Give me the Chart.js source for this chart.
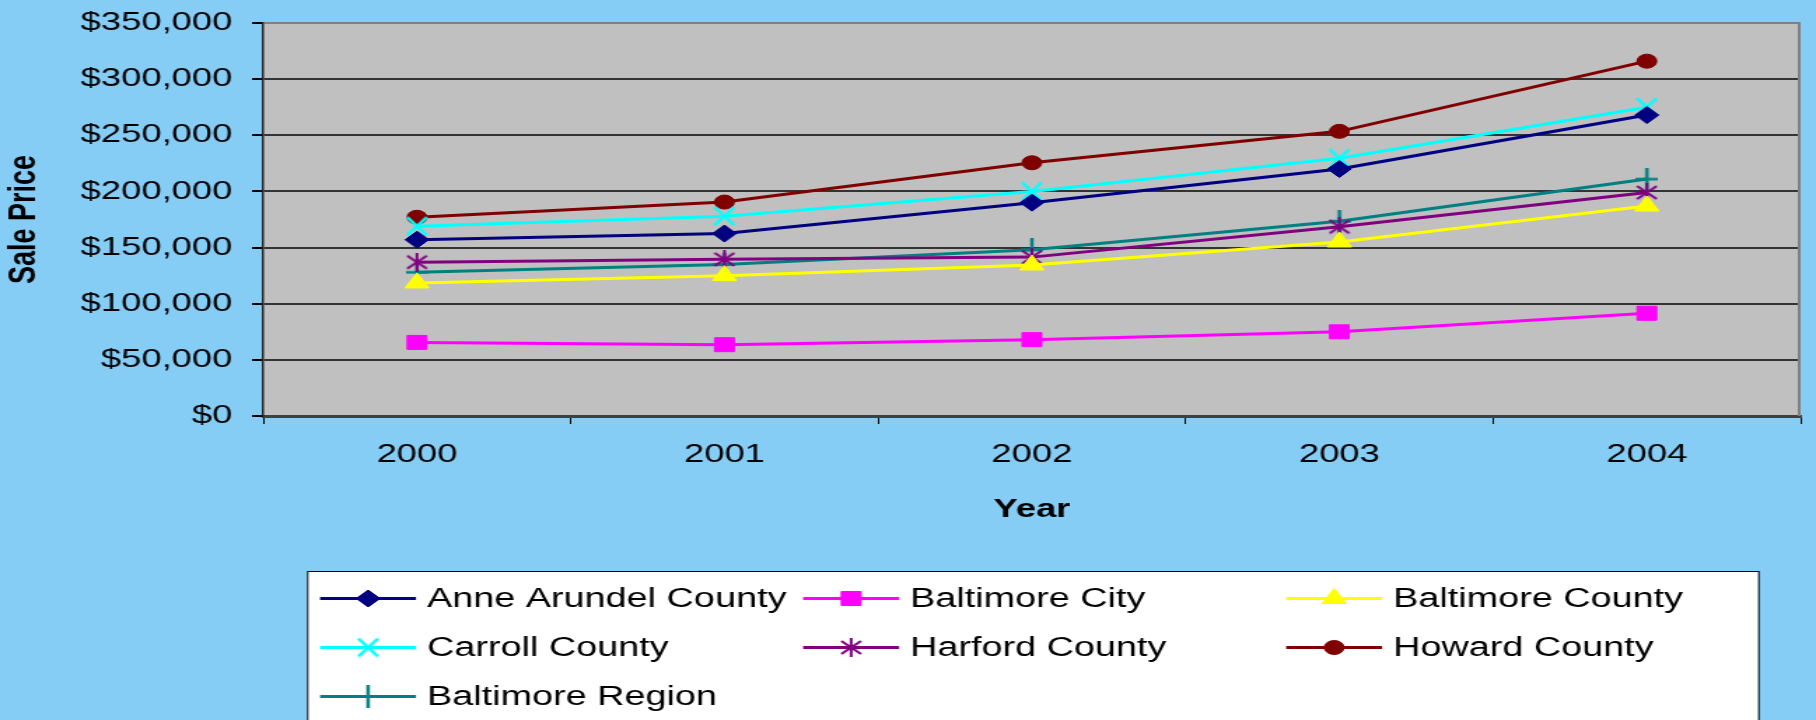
<!DOCTYPE html>
<html>
<head>
<meta charset="utf-8">
<title>Sale Price by Year</title>
<script src="https://cdn.jsdelivr.net/npm/chart.js@4.4.1/dist/chart.umd.min.js"></script>
<style>
  html, body { margin: 0; padding: 0; background: #86cdf6; overflow: hidden; }
  /* the reference is stretched sideways, so the chart is drawn narrow and widened */
  #wrap { width: 1297px; height: 720px; transform: scaleX(1.40015); transform-origin: 0 0; }
</style>
</head>
<body>
<div id="wrap"><canvas id="chart"></canvas></div>
<script>
  // ── Data ──────────────────────────────────────────────────────
  const years = ["2000", "2001", "2002", "2003", "2004"];

  const seriesNames = [
    "Anne Arundel County", "Baltimore City", "Baltimore County",
    "Carroll County", "Harford County", "Howard County", "Baltimore Region"
  ];

  const anneArundel   = [157000, 162500, 190000, 220000, 268000];
  const baltimoreCity = [65500, 63500, 68000, 75000, 91500];
  const baltimoreCo   = [118500, 125000, 134500, 155000, 187000];
  const carroll       = [169000, 178000, 200000, 229500, 275000];
  const harford       = [137000, 139500, 141500, 168500, 199000];
  const howard        = [177000, 190500, 225500, 253500, 316000];
  const region        = [128000, 135000, 148000, 173500, 211000];

  const seriesValues = [anneArundel, baltimoreCity, baltimoreCo, carroll, harford, howard, region];
  const seriesColors = ["#000080", "#ff00ff", "#ffff00", "#00ffff", "#800080", "#800000", "#008080"];

  // ── Marker shapes that Chart.js lacks ─────────────────────────

  function strokeMarker(w, h, color, lw, segs) {
    const c = document.createElement("canvas");
    c.width = w; c.height = h;
    const g = c.getContext("2d");
    g.strokeStyle = color;
    g.lineWidth = lw;
    g.beginPath();
    for (const [x1, y1, x2, y2] of segs) { g.moveTo(x1, y1); g.lineTo(x2, y2); }
    g.stroke();
    return c;
  }

  const xMark = strokeMarker(16, 20, "#00ffff", 2.5, [[1, 1, 15, 19], [15, 1, 1, 19]]);
  const starMark = strokeMarker(16, 19, "#800080", 2, [[8, 0, 8, 19], [1, 3, 15, 16], [15, 3, 1, 16]]);
  const plusMark = strokeMarker(16, 23, "#008080", 2.5, [[8, 0, 8, 23], [0, 11.5, 16, 11.5]]);

  const pointStyles = ["rectRot", "rect", "triangle", xMark, starMark, "circle", plusMark];
  const pointRadii  = [8.5, 9.9, 10, 10, 10, 7, 10];

  // ── Plugins ───────────────────────────────────────────────────

  const plotFrame = {
    id: "plotFrame",
    beforeDraw(chart) {
      const { ctx, chartArea: a } = chart;
      ctx.save();
      ctx.fillStyle = "#c0c0c0";
      ctx.fillRect(a.left, a.top, a.right - a.left, a.bottom - a.top);
      ctx.restore();
    },
    beforeDatasetsDraw(chart) {
      const { ctx, chartArea: a } = chart;
      ctx.save();
      ctx.strokeStyle = "#808080";
      ctx.lineWidth = 2;
      ctx.beginPath();
      ctx.moveTo(a.right - 1, a.top);
      ctx.lineTo(a.right - 1, a.bottom);
      ctx.stroke();
      ctx.restore();
    }
  };

  // Legend box with line + marker samples, three columns
  const boxLegend = {
    id: "boxLegend",
    afterDraw(chart) {
      const ctx = chart.ctx;
      const left = 219.3, top = 571, width = 1036.4;
      ctx.save();
      ctx.fillStyle = "#ffffff";
      ctx.fillRect(left, top, width, 200);
      ctx.strokeStyle = "#000000";
      ctx.lineWidth = 1;
      ctx.strokeRect(left + 0.5, top + 0.5, width, 200);

      ctx.font = "27px 'Liberation Sans', Arial, sans-serif";
      ctx.textBaseline = "middle";
      ctx.textAlign = "left";
      chart.data.datasets.forEach((ds, i) => {
        const x0 = 228.6 + (i % 3) * 345;
        const y = 598.5 + Math.floor(i / 3) * 49;
        ctx.strokeStyle = ds.borderColor;
        ctx.lineWidth = 3;
        ctx.beginPath();
        ctx.moveTo(x0, y);
        ctx.lineTo(x0 + 68.5, y);
        ctx.stroke();
        ctx.fillStyle = ds.borderColor;
        ctx.lineWidth = 1;
        Chart.helpers.drawPoint(ctx, {
          pointStyle: ds.pointStyle, radius: ds.pointRadius, rotation: 0, borderWidth: 1
        }, x0 + 34.25, y);
        ctx.fillStyle = "#000000";
        ctx.fillText(ds.label, x0 + 76.4, y + 1);
      });
      ctx.restore();
    }
  };

  // ── Chart ─────────────────────────────────────────────────────

  Chart.defaults.font.family = "'Liberation Sans', Arial, sans-serif";
  Chart.defaults.color = "#000000";

  const datasets = seriesNames.map((name, i) => ({
    label: name,
    data: seriesValues[i],
    borderColor: seriesColors[i],
    backgroundColor: seriesColors[i],
    borderWidth: 3,
    pointStyle: pointStyles[i],
    pointRadius: pointRadii[i],
    pointBorderWidth: 1,
    pointBorderColor: seriesColors[i],
    pointBackgroundColor: seriesColors[i],
    tension: 0,
    fill: false,
  }));

  new Chart(document.getElementById("chart"), {
    type: "line",
    data: { labels: years, datasets },
    plugins: [plotFrame, boxLegend],
    options: {
      responsive: true,
      maintainAspectRatio: false,
      animation: false,
      events: [],
      layout: { padding: { top: 23, right: 4, bottom: 185, left: 0 } },
      plugins: { legend: { display: false }, tooltip: { enabled: false } },
      scales: {
        x: {
          offset: true,
          grid: {
            offset: true,
            drawOnChartArea: false,
            drawTicks: true,
            tickLength: 8,
            tickColor: "#000000",
            color: "#000000",
          },
          border: { display: true, color: "#404040", width: 3 },
          ticks: { font: { size: 26 }, padding: 15, maxRotation: 0 },
          title: {
            display: true,
            text: "Year",
            font: { size: 26, weight: "bold" },
            padding: { top: 9.3, bottom: 9.3 },
          },
        },
        y: {
          min: 0,
          max: 350000,
          afterFit: s => { s.width = 188; s.paddingTop = 0; s.paddingBottom = 0; },
          grid: {
            color: c => (c.tick && c.tick.value === 350000 ? "#808080" : "#333333"),
            lineWidth: 2,
            tickLength: 8,
            tickColor: "#000000",
          },
          border: { display: true, color: "#222222", width: 1.5 },
          ticks: {
            stepSize: 50000,
            padding: 14,
            font: { size: 26 },
            callback: v => "$" + v.toLocaleString("en-US"),
          },
          title: {
            display: true,
            text: "Sale Price",
            font: { size: 27, weight: "bold" },
            padding: { top: 1, bottom: 0 },
          },
        },
      },
    },
  });
</script>
</body>
</html>
